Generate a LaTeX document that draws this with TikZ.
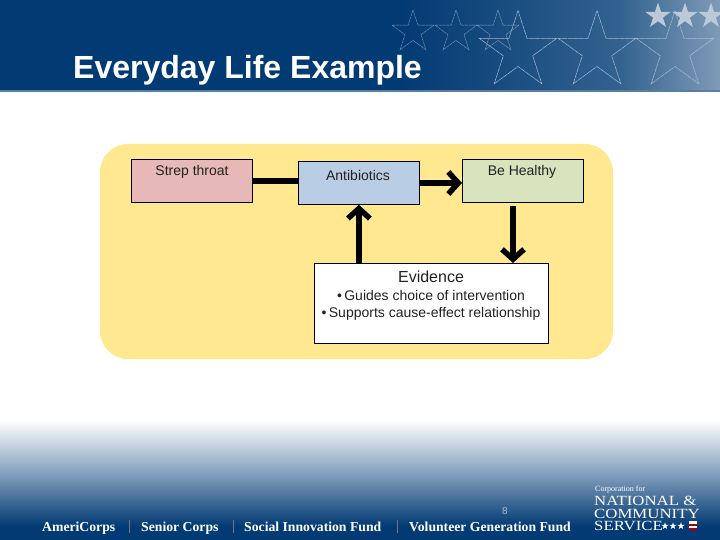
\documentclass[tikz,border=0pt]{standalone}
\usepackage{fontspec}
\setmainfont{Liberation Sans}
\newfontfamily\serifish{Liberation Serif}
\newfontfamily\logoserif[FakeStretch=1.2]{Liberation Serif}
\usetikzlibrary{arrows.meta,shapes.geometric,calc}
\definecolor{navy}{HTML}{023A73}
\definecolor{headmid}{HTML}{33628F}
\definecolor{headend}{HTML}{7F9BB8}
\definecolor{footmid}{HTML}{6F90B2}
\definecolor{panel}{HTML}{FFE88F}
\definecolor{rosefill}{HTML}{E6B8B7}
\definecolor{bluefill}{HTML}{B9CDE5}
\definecolor{greenfill}{HTML}{D7E4BD}
\definecolor{starline}{HTML}{A9BDD2}
\definecolor{starfill}{HTML}{BCC9D6}
\definecolor{sepred}{HTML}{8A6A80}
\definecolor{inktext}{HTML}{222222}
\tikzset{
  flowbox/.style={draw=black,line width=0.8pt,minimum width=121pt,minimum height=43pt,inner sep=0pt,anchor=north west},
  boxlabel/.style={inner sep=0pt,text=inktext,font=\fontsize{14}{16}\selectfont},
  flowline/.style={line width=6pt,draw=black},
  flowarrow/.style={flowline,-{Straight Barb[length=10pt,width=22pt,line width=5.5pt]}},
  bigstar/.style={star,star points=5,star point ratio=2.618,minimum size=81pt,inner sep=0pt,draw=starline,line width=0.5pt,dash pattern=on 5pt off 0.6pt},
  smallstar/.style={star,star points=5,star point ratio=2.618,minimum size=44pt,inner sep=0pt,draw=starline,opacity=.75,line width=0.4pt,dash pattern=on 3pt off 0.6pt},
  solidstar/.style={star,star points=5,star point ratio=2.618,minimum size=27pt,inner sep=0pt,fill=starfill},
  minstar/.style={star,star points=5,star point ratio=2.618,minimum size=7.5pt,inner sep=0pt,fill=white},
  footlabel/.style={text=white,font=\serifish\bfseries\fontsize{13.7}{14}\selectfont,anchor=base west,inner sep=0pt},
  logolabel/.style={text=white,font=\logoserif\fontsize{14}{12}\selectfont,anchor=base west,inner sep=0pt},
  seprule/.style={draw=sepred,line width=0.6pt}
}
\begin{document}
\begin{tikzpicture}[x=1pt,y=-1pt]
\useasboundingbox (0,0) rectangle (720,540);
\fill[white] (0,0) rectangle (720,540);
% header band
\fill[navy] (0,0) rectangle (401,91);
\shade[left color=navy,right color=headmid] (400,0) rectangle (621,91);
\shade[left color=headmid,right color=headend] (620,0) rectangle (720,91);
\fill[headend!70!navy] (0,90.5) rectangle (720,92);
\node[smallstar] (s1) at (413,32) {};
\node[smallstar] (s2) at (456,32) {};
\node[smallstar] (s3) at (498,32) {};
\node[bigstar] (b1) at (518,51) {};
\node[bigstar] (b2) at (597,51) {};
\node[bigstar] (b3) at (675,51) {};
\node[solidstar] (f1) at (658,16) {};
\node[solidstar] (f2) at (685,16) {};
\node[solidstar] (f3) at (711,16) {};
\node[anchor=base west,inner sep=0pt,text=white,font=\bfseries\fontsize{32}{34}\selectfont] (title) at (73,79) {Everyday Life Example};
% footer band
\shade[top color=white,bottom color=footmid] (0,420) rectangle (720,482);
\shade[top color=footmid,bottom color=navy] (0,481.5) rectangle (720,526);
\fill[navy] (0,525.5) rectangle (720,540);
% panel and diagram
\fill[panel,rounded corners=28pt] (100,144) rectangle (613,359);
\node[flowbox,fill=rosefill] (strep) at (131,159) {};
\node[flowbox,fill=bluefill] (anti) at (298,161) {};
\node[flowbox,fill=greenfill] (healthy) at (462,159) {};
\node[boxlabel] (streptext) at (192,172) {Strep throat};
\node[boxlabel] (antitext) at (358,175) {Antibiotics};
\node[boxlabel] (healthytext) at (522,172) {Be Healthy};
\node[draw=black,line width=0.8pt,fill=white,minimum width=234pt,minimum height=80pt,inner sep=0pt,anchor=north west] (evid) at (314,263) {};
\node[text=inktext,font=\fontsize{16}{18}\selectfont,inner sep=0pt] (evtitle) at (431,277) {Evidence};
\node[text=inktext,font=\fontsize{14}{17}\selectfont,inner sep=0pt,align=center] (evbody) at (431,305) {•\,Guides choice of intervention\\•\,Supports cause-effect relationship};
\coordinate (gapb) at (513,206);
\draw[flowline] (strep.east |- 0,181) -- (anti.west |- 0,181);
\draw[flowarrow] (anti.east |- 0,183) -- (healthy.west |- 0,183);
\draw[flowarrow] (evid.north -| anti.south) -- (anti.south);
\draw[flowarrow] (gapb) -- (gapb |- evid.north);
% footer text
\node[text=footmid!60!white,font=\fontsize{10}{12}\selectfont,inner sep=0pt] (pg) at (505,511) {8};
\node[footlabel] (ac) at (42,531) {AmeriCorps};
\node[footlabel] (sc) at (141,531) {Senior Corps};
\node[footlabel] (si) at (244,531) {Social Innovation Fund};
\node[footlabel] (vg) at (409,531) {Volunteer Generation Fund};
\draw[seprule] (129,520) -- (129,533);
\draw[seprule] (233,520) -- (233,533);
\draw[seprule] (397,520) -- (397,533);
\node[text=white,font=\serifish\fontsize{8}{9}\selectfont,anchor=base west,inner sep=0pt] (corp) at (595,491) {Corporation for};
\node[logolabel] (l1) at (594,505) {NATIONAL \&};
\node[logolabel] (l2) at (594,518) {COMMUNITY};
\node[logolabel] (l3) at (594,530.5) {SERVICE};
\node[minstar] (m1) at (665,526) {};
\node[minstar] (m2) at (673,526) {};
\node[minstar] (m3) at (681,526) {};
\fill[white] (689,521) rectangle (697,530);
\fill[red!70!black] (689,524) rectangle (697,526);
\fill[red!70!black] (689,528) rectangle (697,530);
\end{tikzpicture}
\end{document}
